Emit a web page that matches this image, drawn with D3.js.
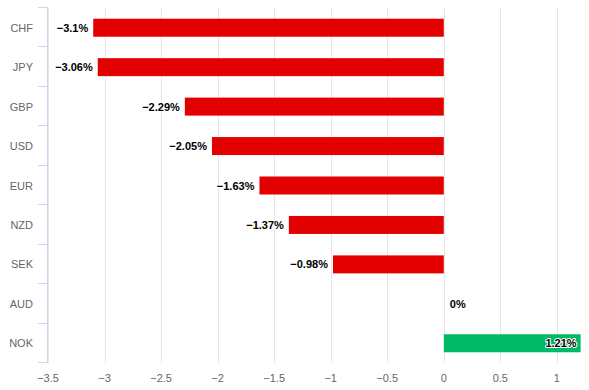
<!DOCTYPE html>
<html><head><meta charset="utf-8">
<script src="https://cdn.jsdelivr.net/npm/d3@7"></script>
<style>body{margin:0;background:#fff}svg{display:block}</style>
</head><body>
<svg id="c" width="589" height="390"></svg>
<script>
const categories = ["CHF","JPY","GBP","USD","EUR","NZD","SEK","AUD","NOK"];
const values = [-3.1,-3.06,-2.29,-2.05,-1.63,-1.37,-0.98,0,1.21];
const labels = ["−3.1%","−3.06%","−2.29%","−2.05%","−1.63%","−1.37%","−0.98%","0%","1.21%"];
const ticks = [-3.5,-3,-2.5,-2,-1.5,-1,-0.5,0,0.5,1];

(function(){
const svg = d3.select("#c");
const font = "'Liberation Sans', Arial, sans-serif";
const pL = 48, pR = 584, pT = 8, pB = 363;
const x = d3.scaleLinear().domain([-3.5, 1.24]).range([pL, pR]);
const y = d3.scaleBand().domain(categories).range([pT, pB]);
const barH = 18;

// gridlines
svg.append("g").selectAll("line").data(ticks).join("line")
  .attr("x1", d => Math.round(x(d)) + 0.5).attr("x2", d => Math.round(x(d)) + 0.5)
  .attr("y1", pT).attr("y2", pB)
  .attr("stroke", "#e6e6e6").attr("stroke-width", 1);

// value axis labels
const fmt = d => (d < 0 ? "−" : "") + Math.abs(d);
svg.append("g").selectAll("text").data(ticks).join("text")
  .attr("x", d => x(d)).attr("y", 382)
  .attr("text-anchor", "middle")
  .attr("font-family", font).attr("font-size", 11).attr("fill", "#666")
  .text(fmt);

// category axis line and ticks
const ax = svg.append("g");
ax.append("line").attr("x1", pL - 0.5).attr("x2", pL - 0.5)
  .attr("y1", pT).attr("y2", pB).attr("stroke", "#ccd6eb");
const bounds = categories.map(c => y(c)).concat([pB]);
ax.selectAll("line.t").data(bounds).join("line").attr("class","t")
  .attr("x1", pL - 10).attr("x2", pL)
  .attr("y1", d => Math.round(d) - 0.5).attr("y2", d => Math.round(d) - 0.5)
  .attr("stroke", "#ccd6eb");
ax.selectAll("text").data(categories).join("text")
  .attr("x", 33).attr("y", c => y(c) + y.bandwidth()/2 + 4)
  .attr("text-anchor", "end")
  .attr("font-family", font).attr("font-size", 11).attr("fill", "#666")
  .text(c => c);

// bars
svg.append("g").selectAll("rect").data(values).join("rect")
  .attr("x", d => x(Math.min(0, d)))
  .attr("width", d => Math.abs(x(d) - x(0)))
  .attr("y", (d, i) => y(categories[i]) + y.bandwidth()/2 - barH/2)
  .attr("height", barH)
  .attr("fill", d => d < 0 ? "#e30000" : "#00b865");

// data labels
svg.append("g").selectAll("text").data(values).join("text")
  .attr("x", d => d < 0 ? x(d) - 5 : (d > 0 ? x(d) - 4 : x(0) + 6))
  .attr("y", (d, i) => y(categories[i]) + y.bandwidth()/2 + 4)
  .attr("text-anchor", d => d !== 0 ? "end" : "start")
  .attr("font-family", font).attr("font-size", 11).attr("font-weight", "bold")
  .attr("fill", "#000")
  .attr("stroke", "#fff").attr("stroke-width", 2).attr("paint-order", "stroke")
  .attr("stroke-linejoin", "round")
  .text((d, i) => labels[i]);
})();
</script>
</body></html>
